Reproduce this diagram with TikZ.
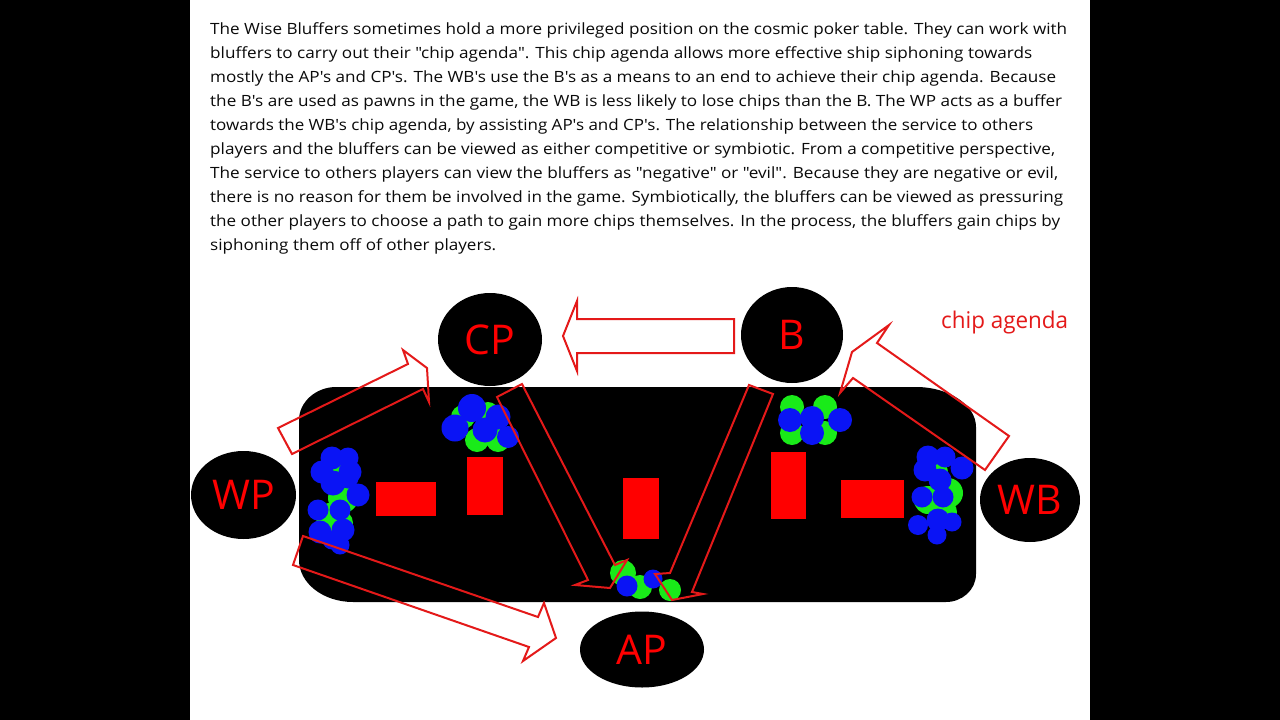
\documentclass[tikz,border=0pt]{standalone}
\usepackage{fontspec}
\usepackage{graphicx}
\newfontfamily\segoe{Open Sans}
\usetikzlibrary{shapes.geometric}
\definecolor{chipgreen}{RGB}{25,235,25}
\definecolor{chipblue}{RGB}{10,20,245}
\definecolor{arrowred}{RGB}{228,25,25}
\definecolor{textgray}{RGB}{10,10,10}
\newcommand\myLabelFont{\segoe\fontsize{41}{41}\selectfont}
\newcommand\myParaFont{\segoe\fontsize{15.5}{18}\selectfont}
\newcommand\myLine[2]{\resizebox{#1pt}{\height}{#2}}
\newcommand\bc[3]{\fill[chipB] (#1,#2) circle (#3+1.5);}
\newcommand\gc[3]{\fill[chipG] (#1,#2) circle (#3+1);}
\tikzset{
  player/.style={ellipse, fill=black, text=red, inner sep=0pt, font=\myLabelFont},
  para/.style={anchor=base west, inner sep=0pt, font=\myParaFont, text=textgray},
  redbox/.style={fill=red},
  chipG/.style={fill=chipgreen},
  chipB/.style={fill=chipblue},
  blockarrow/.style={draw=arrowred, line width=2pt, line join=miter}
}
\begin{document}
\begin{tikzpicture}[x=1pt,y=-1pt]
\useasboundingbox (0,0) rectangle (1280,720);
\fill[black] (0,0) rectangle (1280,720);
\fill[white] (190,0) rectangle (1090,720);

% paragraph
\node[para] (t1) at (210,34.5) {\myLine{857}{The Wise Bluffers sometimes hold a more privileged position on the cosmic poker table. They can work with}};
\node[para] (t2) at (210,58.45) {\myLine{822}{bluffers to carry out their "chip agenda". This chip agenda allows more effective ship siphoning towards}};
\node[para] (t3) at (210,82.4) {\myLine{846}{mostly the AP's and CP's. The WB's use the B's as a means to an end to achieve their chip agenda. Because}};
\node[para] (t4) at (210,106.35) {\myLine{852}{the B's are used as pawns in the game, the WB is less likely to lose chips than the B. The WP acts as a buffer}};
\node[para] (t5) at (210,130.3) {\myLine{823}{towards the WB's chip agenda, by assisting AP's and CP's. The relationship between the service to others}};
\node[para] (t6) at (210,154.25) {\myLine{845}{players and the bluffers can be viewed as either competitive or symbiotic. From a competitive perspective,}};
\node[para] (t7) at (210,178.2) {\myLine{848}{The service to others players can view the bluffers as "negative" or "evil". Because they are negative or evil,}};
\node[para] (t8) at (210,202.15) {\myLine{853}{there is no reason for them be involved in the game. Symbiotically, the bluffers can be viewed as pressuring}};
\node[para] (t9) at (210,226.1) {\myLine{850}{the other players to choose a path to gain more chips themselves. In the process, the bluffers gain chips by}};
\node[para] (t10) at (210,250.05) {\myLine{286}{siphoning them off of other players.}};

% table
\fill[black] (336,387) -- (916,387) .. controls (949,387) and (976,405) .. (976,427)
  -- (976,574) .. controls (976,590) and (962,602) .. (946,602)
  -- (353,602) .. controls (323,602) and (299,583) .. (299,560)
  -- (299,420) .. controls (299,402) and (316,387) .. (336,387) -- cycle;

% red cards
\fill[redbox] (376,482) rectangle (436,516);
\fill[redbox] (467,457) rectangle (503,515);
\fill[redbox] (623,478) rectangle (659,539);
\fill[redbox] (771,452) rectangle (806,519);
\fill[redbox] (841,480) rectangle (904,518);

% players
\node[player, minimum width=104pt, minimum height=93pt] (cp) at (490,339.5) {CP};
\node[player, minimum width=102pt, minimum height=96pt] (b) at (792,335) {B};
\node[player, minimum width=105pt, minimum height=88pt] (wp) at (243.5,495) {WP};
\node[player, minimum width=100pt, minimum height=84pt] (wb) at (1030,500) {WB};
\node[player, minimum width=124pt, minimum height=76pt] (ap) at (642,649.5) {AP};

% chips near CP
\gc{463}{417}{11} \gc{477}{440}{11} \gc{488}{413}{10} \gc{498}{440}{11}
\bc{472}{408}{12.5} \bc{455}{428}{12} \bc{485}{430}{11} \bc{498}{417}{11} \bc{508}{437}{9.5}

% chips near B
\gc{792}{407}{11} \gc{792}{433}{11} \gc{825}{407}{11} \gc{825}{433}{11}
\bc{790}{420}{10.5} \bc{812}{418}{10.5} \bc{812}{433}{10.5} \bc{840}{420}{10.5}

% chips near WP
\gc{333}{473}{10} \gc{343}{498}{14} \gc{330}{517}{13} \gc{340}{523}{12}
\bc{332}{458}{10} \bc{348}{458}{9} \bc{322}{472}{10} \bc{350}{472}{10}
\bc{333}{483}{11} \bc{348}{478}{9} \bc{358}{495}{10} \bc{318}{510}{9}
\bc{340}{510}{9} \bc{320}{532}{10} \bc{343}{530}{10} \bc{332}{540}{8} \bc{340}{545}{8}

% chips near WB
\gc{938}{472}{9} \gc{948}{493}{14} \gc{928}{500}{13} \gc{945}{512}{11}
\bc{928}{457}{10} \bc{945}{457}{9} \bc{925}{470}{10} \bc{962}{468}{10}
\bc{940}{480}{10} \bc{922}{497}{9} \bc{943}{497}{9} \bc{918}{525}{8.5}
\bc{938}{520}{10} \bc{952}{522}{8} \bc{937}{535}{8}

% chips near AP
\gc{623}{573}{12} \gc{640}{587}{11} \gc{670}{590}{10}
\bc{627}{586}{9} \bc{653}{579}{8}

% block arrows
\draw[blockarrow] (734,319) -- (577,319) -- (577,301) -- (563,336) -- (577,371) -- (577,353) -- (734,353) -- cycle;
\draw[blockarrow] (278,428) -- (408,364) -- (403,350) -- (427,368) -- (429,402) -- (423,389) -- (292,454) -- cycle;
\draw[blockarrow] (1009,436) -- (877,343) -- (889,325) -- (852,352) -- (840,393) -- (853,378) -- (985,470) -- cycle;
\draw[blockarrow] (522,384) -- (615,565) -- (627,560) -- (610,588) -- (575,585) -- (588,580) -- (497,397) -- cycle;
\draw[blockarrow] (749,385) -- (670,573) -- (655,574) -- (672,600) -- (703,594) -- (692,592) -- (773,394) -- cycle;
\draw[blockarrow] (303,536) -- (538,617) -- (544,603) -- (556,638) -- (523,661) -- (529,647) -- (293,565) -- cycle;

% label
\node[anchor=base west, inner sep=0pt, text=arrowred, font=\segoe\fontsize{23}{23}\selectfont] (agenda) at (941,328) {\resizebox{127pt}{\height}{chip agenda}};
\end{tikzpicture}
\end{document}
